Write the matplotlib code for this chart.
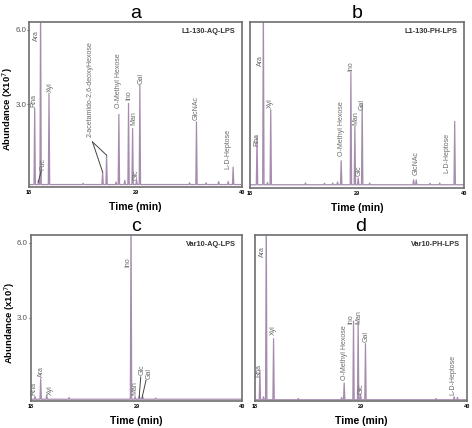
import matplotlib
matplotlib.use("Agg")
import matplotlib.pyplot as plt

plt.rcParams['font.family'] = ['Liberation Sans', 'DejaVu Sans']

# Shared axis settings
X_MIN, X_MAX = 18, 40
Y_MIN, Y_MAX = -0.32, 6.31
TRACE_COLOR = '#a68dae'
LABEL_COLOR = '#6a6a6a'
FRAME_COLOR = '#6e6e6e'
PEAK_HALF_WIDTH = 0.07

# ---- data: retention time (min) and abundance (x10^7) of each peak ----
# a: L1-130-AQ-LPS
a_times = [18.59, 19.0, 19.2, 20.07, 23.6, 25.61, 26.02, 27.0, 27.29, 27.9, 28.29,
           28.71, 29.12, 29.46, 34.6, 35.31, 36.3, 37.6, 38.59, 39.1]
a_heights = [2.84, -0.05, 7.0, 3.45, -0.17, 0.28, 0.96, -0.12, 2.6, -0.05, 3.04,
             2.03, -0.05, 3.78, -0.15, 2.3, -0.15, -0.1, -0.1, 0.48]
a_baseline = -0.22

# b: L1-130-PH-LPS
b_times = [18.72, 19.37, 19.8, 20.13, 23.7, 25.65, 26.5, 27.0, 27.37, 28.37, 28.78,
           29.12, 29.53, 30.3, 34.82, 35.09, 36.5, 37.5, 39.04]
b_heights = [1.74, 7.0, -0.1, 2.81, -0.12, -0.13, -0.12, -0.08, 0.77, 4.30, 2.14,
             0.08, 3.03, -0.12, 0.01, 0.0, -0.13, -0.12, 2.34]
b_baseline = -0.19

# c: Var10-AQ-LPS
c_times = [18.45, 19.04, 19.67, 22.0, 28.44, 28.86, 29.31, 29.66, 31.0]
c_heights = [-0.14, 0.57, -0.09, -0.18, 7.0, -0.15, -0.12, -0.15, -0.2]
c_baseline = -0.25

# d: Var10-PH-LPS
d_times = [18.52, 18.9, 19.18, 19.94, 22.5, 27.0, 27.27, 28.24, 28.72, 28.97,
           29.48, 36.8, 38.69, 39.03]
d_heights = [0.91, -0.15, 7.0, 2.17, -0.22, -0.18, 0.40, 2.87, 2.83, -0.05,
             1.97, -0.22, -0.15, -0.18]
d_baseline = -0.27

# ---- peak labels: name, x, y (bottom of rotated text) ----
a_labels = [('Rha', 18.55, 2.9), ('Ara', 18.79, 5.53), ('Fuc', 19.48, 0.35),
            ('Xyl', 20.17, 3.51), ('2-acetamido-2,6-deoxyHexose', 24.3, 1.70),
            ('O-Methyl Hexose', 27.29, 2.84), ('Ino', 28.33, 3.18),
            ('Man', 28.81, 2.17), ('Glc', 29.12, -0.05), ('Gal', 29.64, 3.82),
            ('GlcNAc', 35.31, 2.37), ('L-D-Heptose', 38.52, 0.42)]
b_labels = [('Rha', 18.72, 1.34), ('Ara', 19.03, 4.54), ('Xyl', 20.09, 2.87),
            ('O-Methyl Hexose', 27.37, 0.94), ('Ino', 28.33, 4.34),
            ('Man', 28.84, 2.21), ('Glc', 29.19, 0.15), ('Gal', 29.5, 2.81),
            ('GlcNAc', 35.09, 0.21), ('L-D-Heptose', 38.25, 0.28)]
c_labels = [('Rha', 18.38, -0.09), ('Ara', 19.11, 0.64), ('Xyl', 20.01, -0.09),
            ('Ino', 28.1, 5.04), ('Man', 28.86, -0.09), ('Glc', 29.62, 0.71),
            ('Gal', 30.28, 0.57)]
d_labels = [('Rha', 18.45, 0.64), ('Ara', 18.8, 5.44), ('Xyl', 19.9, 2.31),
            ('O-Methyl Hexose', 27.27, 0.51), ('Ino', 27.96, 2.77),
            ('Man', 28.76, 2.77), ('Glc', 29.0, -0.03), ('Gal', 29.52, 2.04),
            ('L-D-Heptose', 38.58, -0.09)]

# leader lines: (x0, y0) -> (x1, y1)
a_leaders = [((19.27, 0.32), (18.95, -0.12)),
             ((24.57, 1.49), (25.61, 0.28)),
             ((24.57, 1.49), (26.02, 0.96))]
c_leaders = [((29.45, 0.64), (29.28, -0.2)),
             ((30.0, 0.51), (29.58, -0.2))]


def trace(times, heights, baseline):
    xs, ys = [X_MIN], [baseline]
    for t, h in sorted(zip(times, heights)):
        xs += [t - PEAK_HALF_WIDTH, t, t + PEAK_HALF_WIDTH]
        ys += [baseline, h, baseline]
    xs.append(X_MAX)
    ys.append(baseline)
    return xs, ys


def draw_panel(fig, rect, letter, sample, times, heights, baseline, labels,
               leaders=(), ylabel=None):
    ax = fig.add_axes(rect)
    xs, ys = trace(times, heights, baseline)
    ax.plot(xs, ys, color=TRACE_COLOR, lw=0.9)
    for name, x, y in labels:
        ax.text(x, y, name, rotation=90, ha='center', va='bottom',
                fontsize=5.0, color=LABEL_COLOR)
    for (x0, y0), (x1, y1) in leaders:
        ax.plot([x0, x1], [y0, y1], color='#444444', lw=0.7)
    ax.text(0.97, 0.94, sample, transform=ax.transAxes, ha='right', va='center',
            fontsize=5.3, fontweight='bold', color='#333333')
    ax.set_xlim(X_MIN, X_MAX)
    ax.set_ylim(Y_MIN, Y_MAX)
    ax.set_xticks([18, 29, 40])
    ax.set_xticklabels(['18', '29', '40'], fontsize=4, fontweight='bold')
    ax.tick_params(axis='x', length=0, pad=2)
    if ylabel:
        ax.set_yticks([3.0, 6.0])
        ax.set_yticklabels(['3.0', '6.0'], fontsize=5.7, color='#555555')
        ax.tick_params(axis='y', length=1.5, width=0.8, color='#555555', pad=0.5)
        ax.set_ylabel(ylabel, fontsize=6.8, fontweight='bold')
        ax.yaxis.set_label_coords(-0.066, 0.47)
    else:
        ax.set_yticks([])
    ax.set_xlabel('Time (min)', fontsize=7.5, fontweight='bold')
    ax.xaxis.set_label_coords(0.5, -0.09)
    ax.set_title(letter, fontsize=14, pad=3)
    for sp in ax.spines.values():
        sp.set_color(FRAME_COLOR)
        sp.set_linewidth(1.2)
    return ax


fig = plt.figure(figsize=(4.72, 4.28), dpi=100)
draw_panel(fig, [0.0614, 0.563, 0.451, 0.3855], 'a', 'L1-130-AQ-LPS',
           a_times, a_heights, a_baseline, a_labels, a_leaders,
           ylabel='Abundance (X10$^7$)')
draw_panel(fig, [0.5297, 0.5607, 0.4534, 0.3879], 'b', 'L1-130-PH-LPS',
           b_times, b_heights, b_baseline, b_labels)
draw_panel(fig, [0.065, 0.0631, 0.448, 0.388], 'c', 'Var10-AQ-LPS',
           c_times, c_heights, c_baseline, c_labels, c_leaders,
           ylabel='Abundance (x10$^7$)')
draw_panel(fig, [0.540, 0.0631, 0.449, 0.388], 'd', 'Var10-PH-LPS',
           d_times, d_heights, d_baseline, d_labels)

fig.savefig('out.png', dpi=100)
plt.close(fig)
